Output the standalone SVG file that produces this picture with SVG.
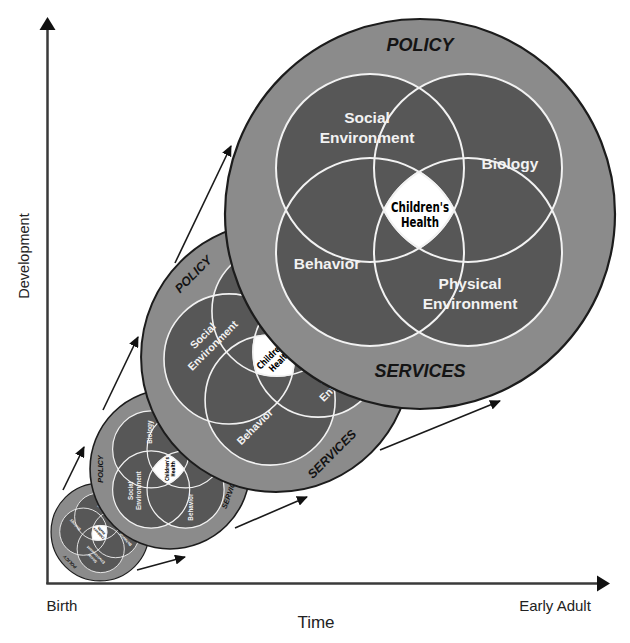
<svg xmlns="http://www.w3.org/2000/svg" width="630" height="643" viewBox="0 0 630 643">
<style>
.ring{fill:#8b8b8b;stroke:#1c1c1c;vector-effect:non-scaling-stroke}
.fill{fill:#575757;stroke:none}
.line{fill:none;stroke:#f2f2f2;vector-effect:non-scaling-stroke}
.hub{fill:#ffffff;stroke:#f2f2f2;vector-effect:non-scaling-stroke}
.lbl{font-family:"Liberation Sans",Arial,sans-serif;font-weight:bold;font-size:15.5px;fill:#f2f2f2;text-anchor:middle}
.ps{font-family:"Liberation Sans",Arial,sans-serif;font-weight:bold;font-style:italic;font-size:18px;fill:#141414;text-anchor:middle}
.ht{font-family:"Liberation Sans Narrow","DejaVu Sans Condensed","Liberation Sans",sans-serif;font-weight:bold;font-size:13.5px;fill:#000;text-anchor:middle}
.ax{font-family:"Liberation Sans",Arial,sans-serif;fill:#222;text-anchor:middle}
.conn line{stroke:#1a1a1a;stroke-width:1.6;fill:none}
#s1 .ring{stroke-width:1.2} #s1 .line,#s1 .hub{stroke-width:0.9}
#s2 .ring{stroke-width:1.6} #s2 .line,#s2 .hub{stroke-width:1.2}
#s3 .ring{stroke-width:2} #s3 .line,#s3 .hub{stroke-width:1.6}
#s4 .ring{stroke-width:2.2} #s4 .line,#s4 .hub{stroke-width:2}
</style>
<defs>
<marker id="ah" markerUnits="userSpaceOnUse" markerWidth="11" markerHeight="10" refX="10" refY="5" orient="auto">
<path d="M0,0 L11,5 L0,10 Z" fill="#111"/>
</marker>
</defs>

<g id="axes">
<line x1="47.5" y1="584" x2="47.5" y2="28" stroke="#3a3a3a" stroke-width="2.5"/>
<polygon points="47.5,17 39.5,30 55.5,30" fill="#111"/>
<line x1="46.3" y1="583.5" x2="598" y2="583.5" stroke="#3a3a3a" stroke-width="2.5"/>
<polygon points="610,583.5 597,575.5 597,591.5" fill="#111"/>
<text class="ax" font-size="14.5" transform="translate(29,256) rotate(-90)">Development</text>
<text class="ax" font-size="15" x="62" y="611">Birth</text>
<text class="ax" font-size="15" x="555" y="611">Early Adult</text>
<text class="ax" font-size="17" x="316" y="628">Time</text>
</g>

<!-- Stage 1: tiny -->
<g id="s1" transform="translate(100,532) rotate(-135) scale(0.251)">
<circle class="ring" r="195"/>
<circle class="fill" cx="-50" cy="-46" r="94"/><circle class="fill" cx="48" cy="-46" r="94"/>
<circle class="fill" cx="-50" cy="38" r="94"/><circle class="fill" cx="48" cy="38" r="94"/>
<circle class="line" cx="-50" cy="-46" r="94"/><circle class="line" cx="48" cy="-46" r="94"/>
<circle class="line" cx="-50" cy="38" r="94"/><circle class="line" cx="48" cy="38" r="94"/>
<path class="hub" d="M-36.1,-4 A94,94 0 0 1 -1,-42.2 A94,94 0 0 1 34.1,-4 A94,94 0 0 1 -1,34.2 A94,94 0 0 1 -36.1,-4 Z"/>
<text class="ps" x="0" y="-163">POLICY</text>
<text class="ps" x="0" y="162.5">SERVICES</text>
<text class="lbl" x="-53" y="-91">Social</text>
<text class="lbl" x="-53" y="-71">Environment</text>
<text class="lbl" x="90" y="-45">Biology</text>
<text class="lbl" x="-93" y="55">Behavior</text>
<text class="lbl" x="50" y="75">Physical</text>
<text class="lbl" x="50" y="95">Environment</text>
<text class="ht" x="0" y="-2.5" textLength="58" lengthAdjust="spacingAndGlyphs">Children's</text>
<text class="ht" x="0" y="12.5" textLength="38" lengthAdjust="spacingAndGlyphs">Health</text>
</g>

<!-- Stage 2: small -->
<g id="s2" transform="translate(170,469) rotate(-90) scale(0.41)">
<circle class="ring" r="195"/>
<circle class="fill" cx="-50" cy="-46" r="94"/><circle class="fill" cx="48" cy="-46" r="94"/>
<circle class="fill" cx="-50" cy="38" r="94"/><circle class="fill" cx="48" cy="38" r="94"/>
<circle class="line" cx="-50" cy="-46" r="94"/><circle class="line" cx="48" cy="-46" r="94"/>
<circle class="line" cx="-50" cy="38" r="94"/><circle class="line" cx="48" cy="38" r="94"/>
<path class="hub" d="M-36.1,-4 A94,94 0 0 1 -1,-42.2 A94,94 0 0 1 34.1,-4 A94,94 0 0 1 -1,34.2 A94,94 0 0 1 -36.1,-4 Z"/>
<text class="ps" x="0" y="-163">POLICY</text>
<text class="ps" x="0" y="162.5" transform="rotate(20)">SERVICES</text>
<text class="lbl" x="-53" y="-91">Social</text>
<text class="lbl" x="-53" y="-71">Environment</text>
<text class="lbl" x="90" y="-45">Biology</text>
<text class="lbl" x="-93" y="55">Behavior</text>
<text class="lbl" x="50" y="75">Physical</text>
<text class="lbl" x="50" y="95">Environment</text>
<text class="ht" x="0" y="-2.5" textLength="58" lengthAdjust="spacingAndGlyphs">Children's</text>
<text class="ht" x="0" y="12.5" textLength="38" lengthAdjust="spacingAndGlyphs">Health</text>
</g>

<!-- Stage 3: medium -->
<g id="s3" transform="translate(276,357) rotate(-45) scale(0.692)">
<circle class="ring" r="195"/>
<circle class="fill" cx="-50" cy="-46" r="94"/><circle class="fill" cx="48" cy="-46" r="94"/>
<circle class="fill" cx="-50" cy="38" r="94"/><circle class="fill" cx="48" cy="38" r="94"/>
<circle class="line" cx="-50" cy="-46" r="94"/><circle class="line" cx="48" cy="-46" r="94"/>
<circle class="line" cx="-50" cy="38" r="94"/><circle class="line" cx="48" cy="38" r="94"/>
<path class="hub" d="M-36.1,-4 A94,94 0 0 1 -1,-42.2 A94,94 0 0 1 34.1,-4 A94,94 0 0 1 -1,34.2 A94,94 0 0 1 -36.1,-4 Z"/>
<text class="ps" x="0" y="-163">POLICY</text>
<text class="ps" x="-42" y="162.5">SERVICES</text>
<text class="lbl" x="-53" y="-91">Social</text>
<text class="lbl" x="-53" y="-71">Environment</text>
<text class="lbl" x="90" y="-45">Biology</text>
<text class="lbl" x="-93" y="55">Behavior</text>
<text class="lbl" x="50" y="75">Physical</text>
<text class="lbl" x="50" y="95">Environment</text>
<text class="ht" x="0" y="-2.5" textLength="58" lengthAdjust="spacingAndGlyphs">Children's</text>
<text class="ht" x="0" y="12.5" textLength="38" lengthAdjust="spacingAndGlyphs">Health</text>
</g>

<!-- Stage 4: large -->
<g id="s4" transform="translate(420,214)">
<circle class="ring" r="195"/>
<circle class="fill" cx="-50" cy="-46" r="94"/><circle class="fill" cx="48" cy="-46" r="94"/>
<circle class="fill" cx="-50" cy="38" r="94"/><circle class="fill" cx="48" cy="38" r="94"/>
<circle class="line" cx="-50" cy="-46" r="94"/><circle class="line" cx="48" cy="-46" r="94"/>
<circle class="line" cx="-50" cy="38" r="94"/><circle class="line" cx="48" cy="38" r="94"/>
<path class="hub" d="M-36.1,-4 A94,94 0 0 1 -1,-42.2 A94,94 0 0 1 34.1,-4 A94,94 0 0 1 -1,34.2 A94,94 0 0 1 -36.1,-4 Z"/>
<text class="ps" x="0" y="-163">POLICY</text>
<text class="ps" x="0" y="162.5">SERVICES</text>
<text class="lbl" x="-53" y="-91">Social</text>
<text class="lbl" x="-53" y="-71">Environment</text>
<text class="lbl" x="90" y="-45">Biology</text>
<text class="lbl" x="-93" y="55">Behavior</text>
<text class="lbl" x="50" y="75">Physical</text>
<text class="lbl" x="50" y="95">Environment</text>
<text class="ht" x="0" y="-2.5" textLength="58" lengthAdjust="spacingAndGlyphs">Children's</text>
<text class="ht" x="0" y="12.5" textLength="38" lengthAdjust="spacingAndGlyphs">Health</text>
</g>

<g id="connectors" class="conn">
<line x1="63" y1="490" x2="84" y2="447" marker-end="url(#ah)"/>
<line x1="137" y1="570" x2="185" y2="557" marker-end="url(#ah)"/>
<line x1="103" y1="410" x2="138" y2="337" marker-end="url(#ah)"/>
<line x1="235" y1="528" x2="307" y2="497" marker-end="url(#ah)"/>
<line x1="175" y1="263" x2="231" y2="146" marker-end="url(#ah)"/>
<line x1="380" y1="450" x2="500" y2="401" marker-end="url(#ah)"/>
</g>
</svg>
